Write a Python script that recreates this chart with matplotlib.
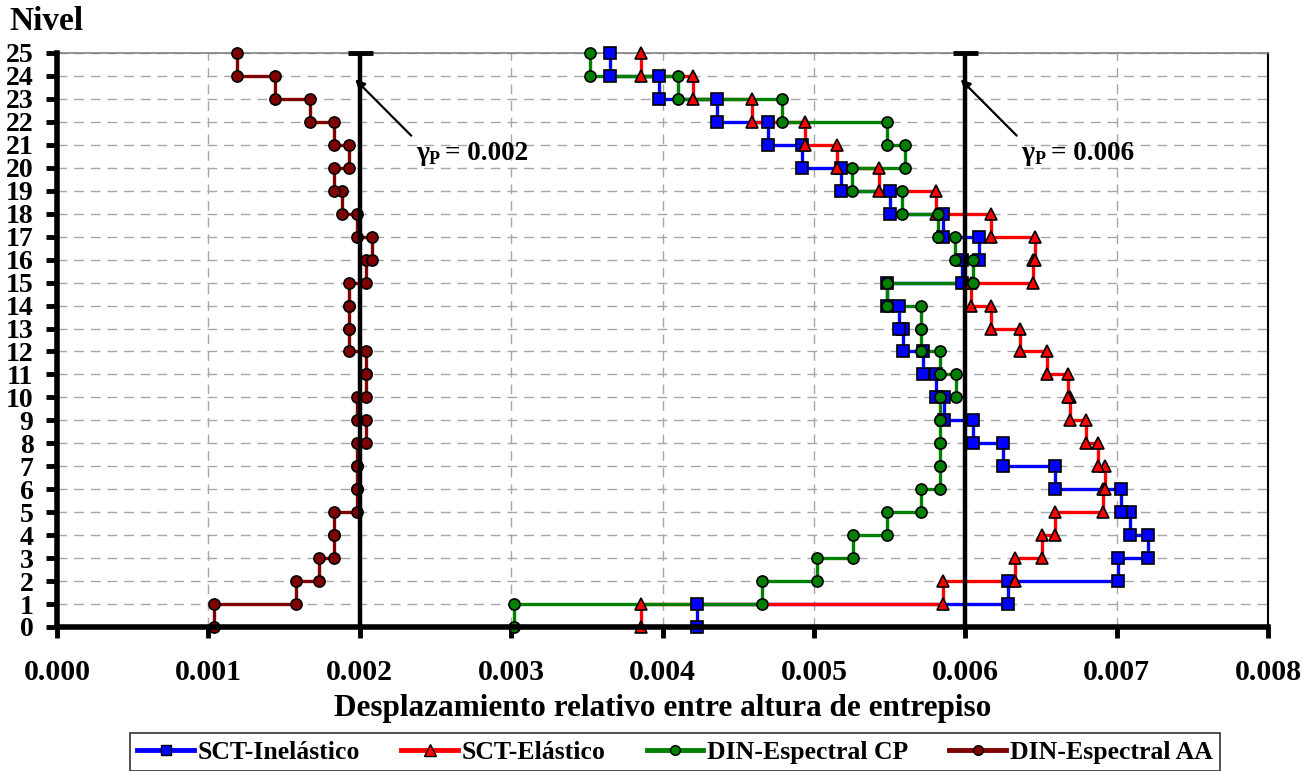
import numpy as np
import matplotlib
matplotlib.use("Agg")
import matplotlib.pyplot as plt
from matplotlib.lines import Line2D

# ---------------- data ----------------
levels = list(range(0, 26))
stories = list(range(1, 26))

sct_inelastico = [0.00423, 0.00628, 0.00701, 0.00721, 0.00709, 0.00703, 0.00659, 0.00625,
                  0.00605, 0.00586, 0.00581, 0.00572, 0.00559, 0.00556, 0.00548, 0.00598,
                  0.00609, 0.00585, 0.00550, 0.00518, 0.00492, 0.00470, 0.00436, 0.00398,
                  0.00365]
sct_elastico = [0.00386, 0.00585, 0.00633, 0.00651, 0.00659, 0.00691, 0.00692, 0.00688,
                0.00680, 0.00669, 0.00668, 0.00654, 0.00636, 0.00617, 0.00604, 0.00645,
                0.00646, 0.00617, 0.00581, 0.00543, 0.00515, 0.00494, 0.00459, 0.00420,
                0.00386]
din_cp = [0.00302, 0.00466, 0.00502, 0.00526, 0.00548, 0.00571, 0.00583, 0.00583,
          0.00583, 0.00583, 0.00594, 0.00583, 0.00571, 0.00571, 0.00548, 0.00605,
          0.00593, 0.00582, 0.00558, 0.00525, 0.00560, 0.00548, 0.00479, 0.00410,
          0.00352]
din_aa = [0.00104, 0.00158, 0.00173, 0.00183, 0.00183, 0.00198, 0.00198, 0.00198,
          0.00204, 0.00198, 0.00204, 0.00204, 0.00193, 0.00193, 0.00193, 0.00204,
          0.00208, 0.00198, 0.00188, 0.00183, 0.00193, 0.00183, 0.00167, 0.00144,
          0.00119]

series_names = ["SCT-Inelástico", "SCT-Elástico", "DIN-Espectral CP", "DIN-Espectral AA"]
limits = [0.002, 0.006]
limit_labels = ["0.002", "0.006"]
x_ticks = [0.000, 0.001, 0.002, 0.003, 0.004, 0.005, 0.006, 0.007, 0.008]

# ---------------- style ----------------
plt.rcParams['font.family'] = ['Liberation Serif', 'DejaVu Serif']
plt.rcParams['font.weight'] = 'bold'

colors = ["#0000FF", "#FF0000", "#008000", "#800000"]
markers = ["s", "^", "o", "o"]

fig = plt.figure(figsize=(13.09, 7.71), dpi=100)
ax = fig.add_axes([57/1309, 1-627/771, (1268-57)/1309, (627-53)/771])

all_series = [sct_inelastico, sct_elastico, din_cp, din_aa]


def step_xy(d):
    d = np.asarray(d)
    st = np.asarray(stories)
    xs = np.repeat(d, 2)
    ys = np.empty(2 * len(st))
    ys[0::2] = st - 1
    ys[1::2] = st
    return xs, ys

# lines first (all series), markers after, like the original
for d, c in zip(all_series, colors):
    xs, ys = step_xy(d)
    ax.plot(xs, ys, color=c, lw=2.4, zorder=3, solid_joinstyle='miter', clip_on=False)
for d, c, m in zip(all_series, colors, markers):
    xs, ys = step_xy(d)
    ms = 9 if m == "^" else 8
    ax.plot(xs, ys, ls='none', marker=m, ms=ms, mfc=c, mec='black', mew=1.2,
            zorder=4, clip_on=False)

# limit lines
for xl in limits:
    ax.plot([xl, xl], [levels[0], levels[-1]], color='black', lw=3.2, zorder=5,
            clip_on=False, solid_capstyle='butt')
    ax.plot([xl], [levels[-1]], marker='_', ms=18, mew=3.5, color='black', zorder=5,
            clip_on=False)

# annotations
for xl, lab in zip(limits, limit_labels):
    ax.annotate("", xy=(xl - 0.00003, 23.85), xytext=(xl + 0.00034, 21.4),
                arrowprops=dict(arrowstyle='-|>', color='black', lw=1.6,
                                mutation_scale=14, shrinkA=0, shrinkB=0),
                zorder=6)
    ax.text(xl + 0.00037, 20.62, "γ", fontsize=20, fontweight='bold',
            ha='left', va='center', zorder=6)
    ax.text(xl + 0.000458, 20.35, "P", fontsize=13, fontweight='bold',
            ha='left', va='center', zorder=6)
    ax.text(xl + 0.000565, 20.62, "= " + lab, fontsize=19.5, fontweight='bold',
            ha='left', va='center', zorder=6)

ax.set_xlim(0, 0.008)
ax.set_ylim(0, 25)
ax.set_xticks(x_ticks)
ax.set_xticklabels([f"{v:.3f}" for v in x_ticks])
ax.set_yticks(levels)
ax.set_yticklabels([str(v) for v in levels])

ax.grid(True, color='#a6a6a6', ls=(0, (7, 5)), lw=1.0, zorder=0)
ax.set_axisbelow(True)

for s in ['left', 'bottom']:
    ax.spines[s].set_linewidth(4)
    ax.spines[s].set_color('black')
    ax.spines[s].set_zorder(7)
ax.spines['top'].set_linewidth(1.2)
ax.spines['top'].set_color('#808080')
ax.spines['right'].set_linewidth(1.5)
ax.spines['right'].set_color('black')

ax.tick_params(axis='x', direction='out', length=8, width=3.5, pad=15,
               labelsize=21.5, top=False)
ax.tick_params(axis='y', direction='out', length=8, width=3.5, pad=9,
               labelsize=20, right=False)
for lbl in ax.get_xticklabels() + ax.get_yticklabels():
    lbl.set_fontweight('bold')

ax.set_xlabel("Desplazamiento relativo entre altura de entrepiso", fontsize=22.5,
              fontweight='bold', labelpad=6)

fig.text(9/1309, 1-21/771, "Nivel", fontsize=24, fontweight='bold',
         ha='left', va='center')

handles = []
for c, m, n in zip(colors, markers, series_names):
    handles.append(Line2D([0], [0], color=c, lw=3.5, marker=m, ms=8 if m == "^" else 7,
                          mfc=c, mec='black', mew=1.0, label=n))
leg = fig.legend(handles=handles, loc='upper center',
                 bbox_to_anchor=(675/1309, 1-733/771), ncol=4, frameon=True,
                 fancybox=False, edgecolor='black',
                 prop={'weight': 'bold', 'size': 18.5}, handlelength=2.2,
                 handletextpad=0.15, columnspacing=1.6, borderpad=0.3,
                 borderaxespad=0)
leg.get_frame().set_linewidth(1.2)

fig.savefig("out.png", dpi=100)
